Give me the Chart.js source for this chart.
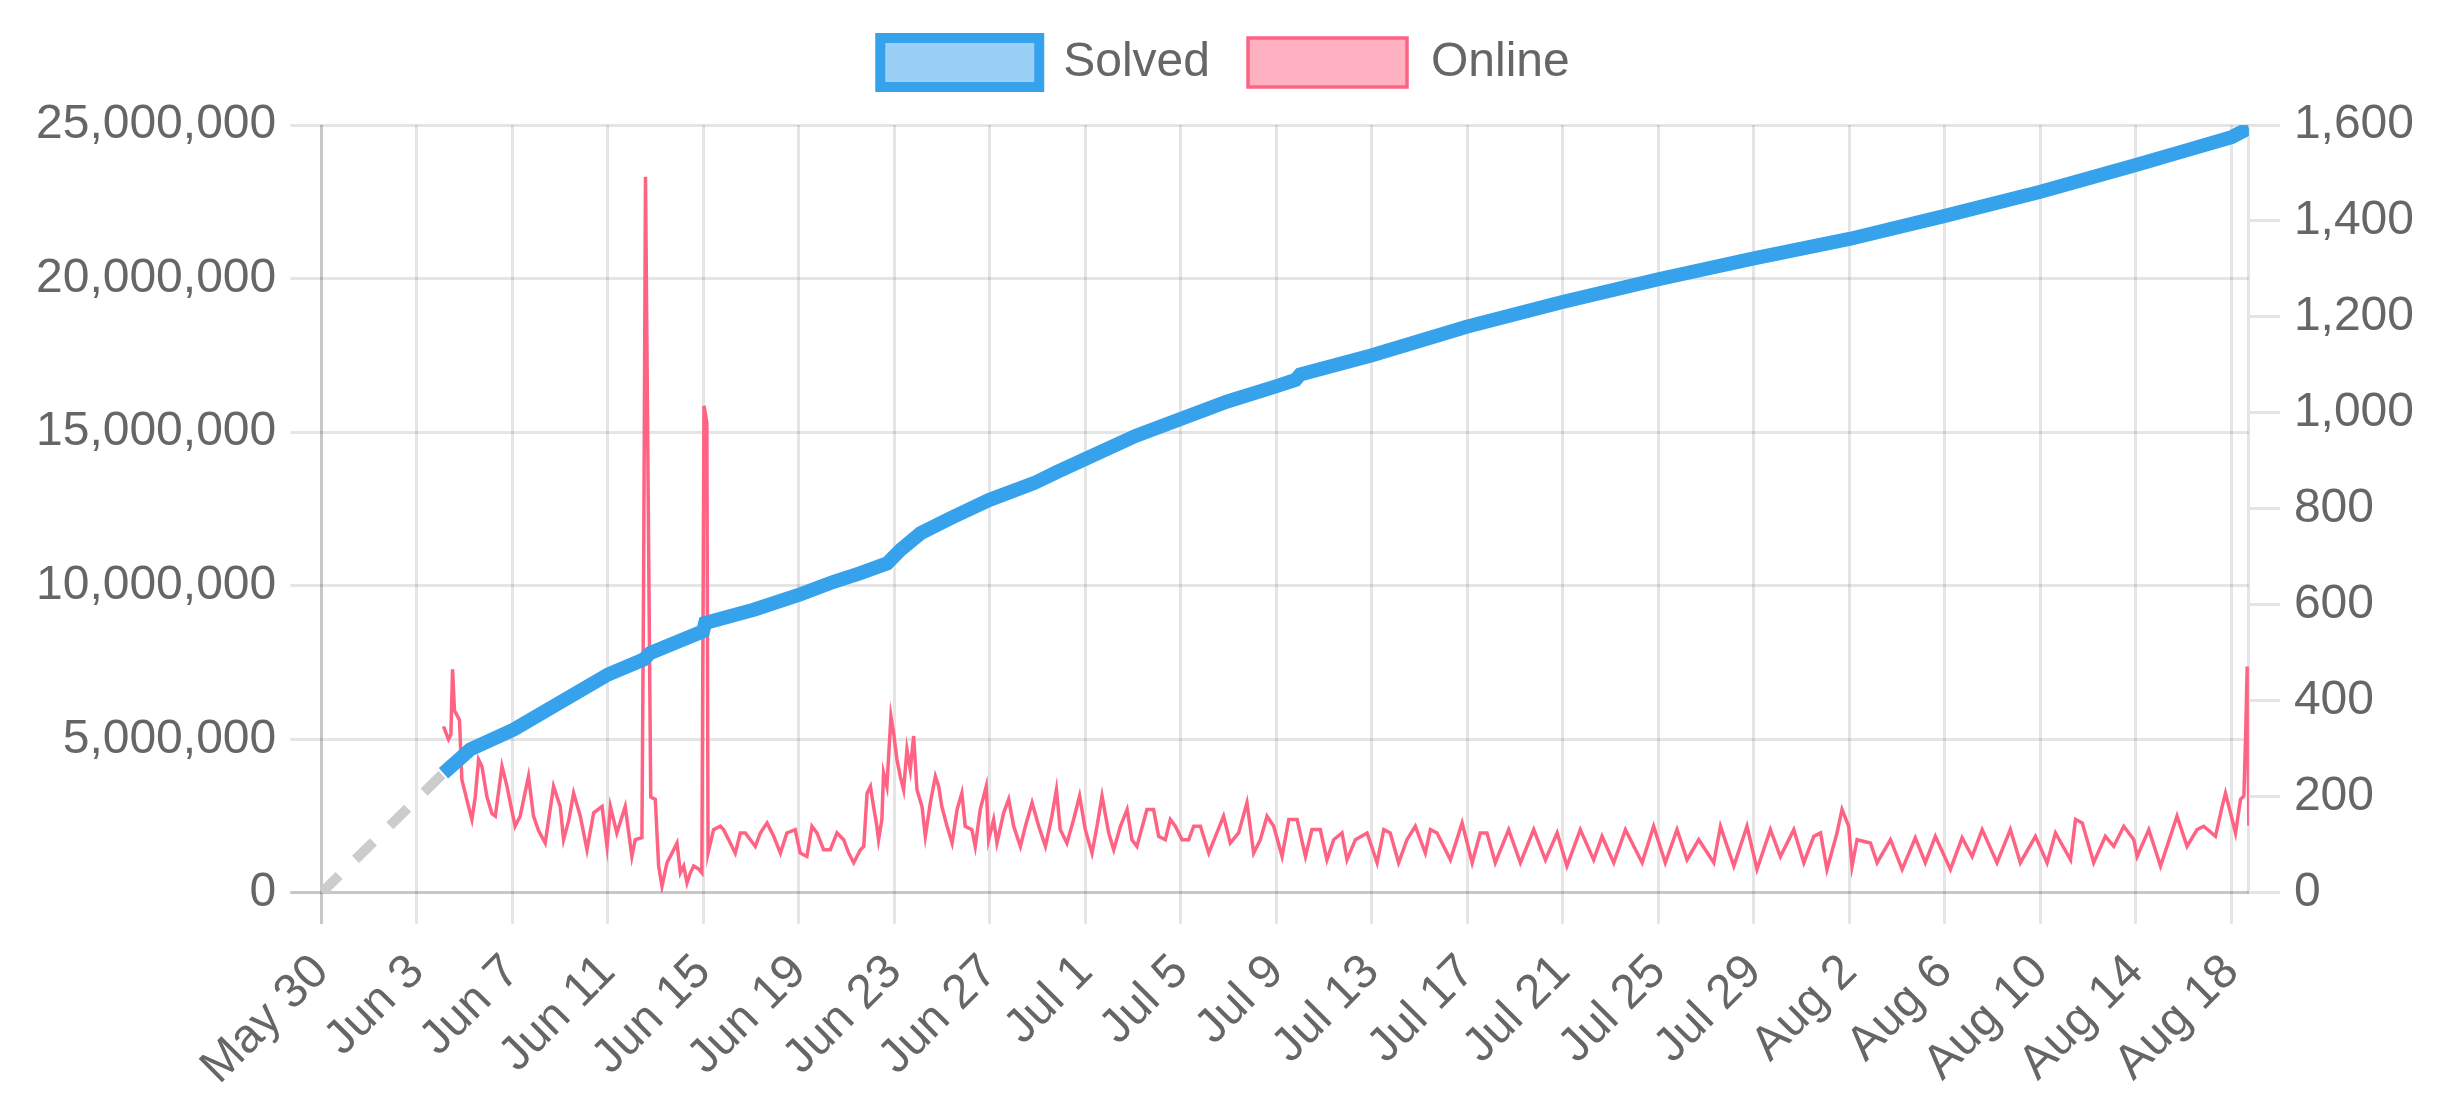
<!DOCTYPE html>
<html>
<head>
<meta charset="utf-8">
<script src="https://cdn.jsdelivr.net/npm/chart.js@4.4.0/dist/chart.umd.min.js"></script>
<style>
  html, body { margin: 0; padding: 0; background: #fff; }
  #wrap { width: 2454px; height: 1102px; }
</style>
</head>
<body>
<div id="wrap"><canvas id="solvedChart"></canvas></div>
<script>
// x values are days since May 30 00:00
var xTickLabels = ['May 30', 'Jun 3', 'Jun 7', 'Jun 11', 'Jun 15', 'Jun 19', 'Jun 23', 'Jun 27',
    'Jul 1', 'Jul 5', 'Jul 9', 'Jul 13', 'Jul 17', 'Jul 21', 'Jul 25', 'Jul 29',
    'Aug 2', 'Aug 6', 'Aug 10', 'Aug 14', 'Aug 18'];

var solvedDays = [0, 5.12, 6.24, 8.06, 9.73, 12.01, 13.5, 13.78, 15.99, 16.08, 18.11, 20.06, 21.46,
    22.58, 23.7, 24.26, 25.1, 26.35, 27.96, 29.85, 30.8, 34.1, 37.95, 39.98, 40.8, 41.0, 43.97,
    47.97, 51.98, 56.0, 60.0, 64.0, 68.0, 72.0, 76.0, 78.0, 80.0, 80.73];
var solvedCounts = [0, 3900000, 4670000, 5320000, 6080000, 7110000, 7600000, 7810000, 8520000, 8790000,
    9220000, 9720000, 10130000, 10410000, 10730000, 11170000, 11710000, 12200000, 12790000, 13340000,
    13700000, 14880000, 16000000, 16490000, 16700000, 16880000, 17500000, 18430000, 19240000, 19980000,
    20660000, 21290000, 22040000, 22830000, 23700000, 24150000, 24600000, 24900000];

var onlineDays = [5.12, 5.33, 5.43, 5.5, 5.58, 5.71, 5.79, 5.89, 5.96, 6.17, 6.31, 6.45, 6.59, 6.73, 6.94,
    7.15, 7.29, 7.57, 7.78, 7.99, 8.12, 8.33, 8.68, 8.89, 9.1, 9.38, 9.73, 10.01, 10.15, 10.36, 10.57,
    10.85, 11.13, 11.41, 11.76, 11.97, 12.11, 12.38, 12.73, 13.01, 13.15, 13.43, 13.5, 13.58, 13.8,
    13.99, 14.13, 14.27, 14.48, 14.69, 14.9, 15.04, 15.18, 15.32, 15.46, 15.6, 15.8, 15.94, 16.03,
    16.15, 16.2, 16.43, 16.71, 16.85, 17.13, 17.34, 17.55, 17.76, 17.97, 18.18, 18.39, 18.67, 18.95,
    19.23, 19.5, 19.85, 20.06, 20.34, 20.55, 20.76, 21.04, 21.32, 21.6, 21.88, 22.09, 22.3, 22.58,
    22.72, 22.86, 23.0, 23.13, 23.27, 23.34, 23.48, 23.55, 23.69, 23.86, 23.97, 24.11, 24.25, 24.39,
    24.53, 24.67, 24.81, 24.95, 25.16, 25.3, 25.51, 25.72, 25.86, 25.99, 26.21, 26.42, 26.63, 26.83,
    26.97, 27.25, 27.39, 27.6, 27.85, 27.95, 28.16, 28.3, 28.58, 28.79, 29.0, 29.28, 29.49, 29.77,
    30.05, 30.33, 30.6, 30.79, 30.95, 31.23, 31.51, 31.76, 32.0, 32.28, 32.49, 32.7, 32.98, 33.19,
    33.47, 33.75, 33.95, 34.16, 34.58, 34.86, 35.07, 35.35, 35.56, 35.77, 36.05, 36.33, 36.54, 36.82,
    37.17, 37.45, 37.79, 38.07, 38.42, 38.77, 39.05, 39.33, 39.61, 39.89, 40.24, 40.52, 40.87, 41.22,
    41.49, 41.84, 42.12, 42.4, 42.75, 42.96, 43.31, 43.8, 44.22, 44.5, 44.77, 45.12, 45.47, 45.82,
    46.24, 46.45, 46.73, 47.29, 47.78, 48.2, 48.54, 48.82, 49.17, 49.73, 50.22, 50.78, 51.27, 51.76,
    52.17, 52.73, 53.29, 53.64, 54.13, 54.62, 55.32, 55.8, 56.29, 56.78, 57.2, 57.69, 58.32, 58.6,
    59.16, 59.71, 60.13, 60.69, 61.11, 61.67, 62.09, 62.51, 62.79, 63.06, 63.48, 63.69, 63.97, 64.11,
    64.32, 64.88, 65.16, 65.72, 66.21, 66.76, 67.18, 67.6, 68.23, 68.72, 69.14, 69.56, 70.18, 70.74,
    71.16, 71.79, 72.28, 72.63, 73.26, 73.47, 73.75, 74.23, 74.72, 75.07, 75.49, 75.91, 76.05, 76.54,
    77.03, 77.72, 78.14, 78.56, 78.84, 79.33, 79.61, 79.75, 80.03, 80.17, 80.38, 80.52, 80.59, 80.66,
    80.73];
var onlineCounts = [347, 320, 330, 466, 380, 368, 360, 236, 222, 180, 153, 200, 278, 264, 200,
    165, 160, 264, 222, 170, 139, 160, 243, 160, 130, 104, 222, 180, 111, 150, 208,
    160, 90, 167, 180, 97, 180, 125, 180, 76, 111, 115, 640, 1492, 200,
    195, 56, 14, 63, 83, 104, 42, 56, 21, 42, 56, 50, 42, 1015,
    980, 83, 132, 139, 132, 104, 83, 125, 125, 111, 97, 125, 146, 118,
    83, 125, 132, 83, 76, 139, 125, 90, 90, 125, 111, 83, 63, 90,
    97, 208, 222, 180, 139, 111, 153, 250, 222, 368, 334, 278, 243, 215,
    299, 257, 327, 215, 180, 118, 188, 243, 222, 180, 139, 104, 174, 208,
    139, 132, 97, 174, 222, 111, 153, 104, 167, 195, 139, 97, 139, 188,
    139, 97, 160, 215, 132, 104, 153, 202, 132, 83, 139, 202, 125, 90,
    139, 174, 111, 97, 174, 174, 118, 111, 153, 139, 111, 111, 139, 139,
    83, 118, 160, 104, 125, 188, 83, 111, 160, 139, 76, 153, 153, 76,
    132, 132, 69, 111, 125, 69, 111, 125, 63, 132, 125, 63, 111, 139,
    83, 132, 125, 69, 146, 63, 125, 125, 63, 132, 63, 132, 69, 125,
    56, 132, 69, 118, 63, 132, 63, 139, 63, 132, 69, 111, 63, 139,
    56, 139, 49, 132, 76, 132, 63, 118, 125, 49, 125, 174, 139, 56,
    111, 104, 63, 111, 49, 115, 63, 118, 49, 115, 76, 132, 63, 132,
    63, 118, 63, 125, 69, 153, 146, 63, 118, 97, 139, 111, 76, 132,
    56, 160, 97, 132, 139, 118, 180, 208, 153, 125, 195, 202, 320, 472,
    140];

var solvedPoints = solvedDays.map(function (d, i) { return { x: d, y: solvedCounts[i] }; });
var onlinePoints = onlineDays.map(function (d, i) { return { x: d, y: onlineCounts[i] }; });

Chart.defaults.font.family = "'Liberation Sans', Arial, Helvetica, sans-serif";
Chart.defaults.font.size = 48;
Chart.defaults.color = '#666';

var gridColor = 'rgba(0, 0, 0, 0.1)';
var zeroColor = 'rgba(0, 0, 0, 0.22)';

// v4 legend has no bottom margin, so stretch its box a bit
var legendSpacing = {
    id: 'legendSpacing',
    beforeInit: function (chart) {
        var originalFit = chart.legend.fit;
        chart.legend.fit = function () {
            originalFit.bind(chart.legend)();
            this.height += 28;
        };
    }
};

var ctx = document.getElementById('solvedChart').getContext('2d');
var solvedChart = new Chart(ctx, {
    type: 'line',
    data: {
        datasets: [{
            label: 'Solved',
            data: solvedPoints,
            yAxisID: 'y',
            borderColor: 'rgb(54, 162, 235)',
            backgroundColor: 'rgba(54, 162, 235, 0.5)',
            borderWidth: 14,
            pointRadius: 0,
            tension: 0,
            fill: false,
            segment: {
                // first stretch (no data yet) is drawn as a grey dashed guess
                borderColor: function (c) { return c.p0DataIndex === 0 ? '#cccccc' : undefined; },
                borderDash: function (c) { return c.p0DataIndex === 0 ? [25, 23] : undefined; },
                borderWidth: function (c) { return c.p0DataIndex === 0 ? 10 : undefined; }
            }
        }, {
            label: 'Online',
            data: onlinePoints,
            yAxisID: 'y1',
            borderColor: 'rgb(255, 99, 132)',
            backgroundColor: 'rgba(255, 99, 132, 0.5)',
            borderWidth: 3.5,
            pointRadius: 0,
            tension: 0,
            fill: false
        }]
    },
    options: {
        responsive: true,
        maintainAspectRatio: false,
        devicePixelRatio: 1,
        animation: false,
        layout: { padding: { top: 0, left: 22, right: 26, bottom: -14 } },
        plugins: {
            legend: {
                labels: {
                    boxWidth: 159,
                    boxHeight: 49,
                    padding: 38,
                    generateLabels: function (chart) {
                        var items = Chart.defaults.plugins.legend.labels.generateLabels(chart);
                        items.forEach(function (item) {
                            item.lineWidth = item.datasetIndex === 0 ? 10 : 3.5;
                        });
                        return items;
                    }
                }
            },
            tooltip: { enabled: false }
        },
        scales: {
            x: {
                type: 'linear',
                min: 0,
                max: 80.73,
                border: { display: false },
                grid: {
                    color: function (c) { return c.index === 0 ? zeroColor : gridColor; },
                    lineWidth: 3,
                    tickLength: 31
                },
                ticks: {
                    stepSize: 4,
                    includeBounds: false,
                    autoSkip: false,
                    maxRotation: 45,
                    minRotation: 45,
                    padding: 20,
                    callback: function (value) { return xTickLabels[Math.round(value / 4)]; }
                }
            },
            y: {
                position: 'left',
                min: 0,
                max: 25000000,
                border: { display: false },
                grid: {
                    color: function (c) { return c.index === 0 ? zeroColor : gridColor; },
                    lineWidth: 3,
                    tickLength: 31
                },
                ticks: {
                    stepSize: 5000000,
                    padding: 14,
                    callback: function (value) { return value.toLocaleString('en-US'); }
                }
            },
            y1: {
                position: 'right',
                min: 0,
                max: 1600,
                border: { display: true, color: gridColor, width: 3 },
                grid: {
                    drawOnChartArea: false,
                    color: gridColor,
                    lineWidth: 3,
                    tickLength: 31
                },
                ticks: {
                    stepSize: 200,
                    padding: 14,
                    callback: function (value) { return value.toLocaleString('en-US'); }
                }
            }
        }
    },
    plugins: [legendSpacing]
});
</script>
</body>
</html>
